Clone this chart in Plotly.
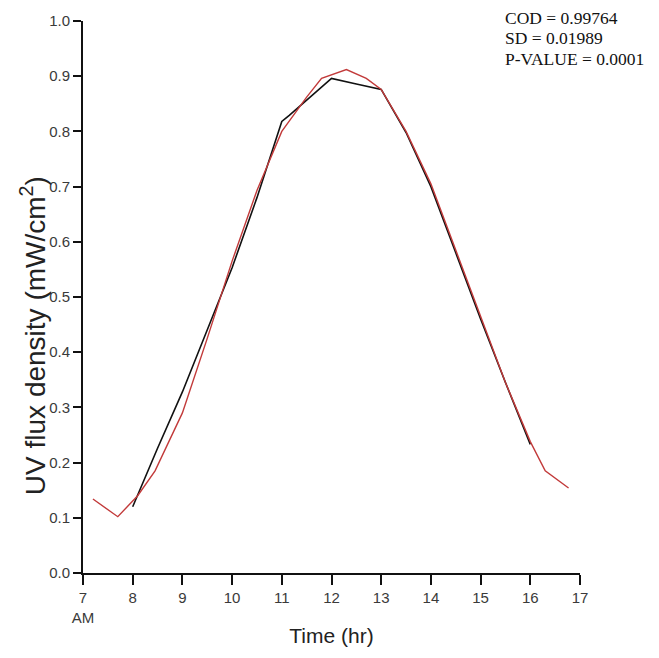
import plotly.graph_objects as go

# Measured UV flux density (black)
measured_t = [8.0, 8.5, 9.0, 9.5, 10.0, 10.5, 11.0, 11.15, 11.5, 12.0, 12.5, 12.8, 13.0,
              13.5, 14.0, 14.5, 15.0, 15.5, 16.0]
measured_v = [0.120, 0.226, 0.328, 0.440, 0.553, 0.680, 0.818, 0.829, 0.857, 0.896, 0.886, 0.880, 0.876,
              0.798, 0.700, 0.580, 0.460, 0.345, 0.233]

# Fitted curve (red)
fit_t = [7.2, 7.7, 8.1, 8.45, 9.0, 9.5, 10.0, 10.5, 11.0, 11.5, 11.8, 12.3, 12.7, 13.0,
         13.5, 14.0, 14.5, 15.0, 15.5, 16.0, 16.3, 16.77]
fit_v = [0.134, 0.102, 0.140, 0.185, 0.290, 0.425, 0.565, 0.693, 0.800, 0.862, 0.896, 0.912, 0.896, 0.876,
         0.800, 0.705, 0.585, 0.465, 0.345, 0.238, 0.185, 0.154]

x_tickvals = [7, 8, 9, 10, 11, 12, 13, 14, 15, 16, 17]
x_ticktext = ["7<br>AM", "8", "9", "10", "11", "12", "13", "14", "15", "16", "17"]
y_tickvals = [0.0, 0.1, 0.2, 0.3, 0.4, 0.5, 0.6, 0.7, 0.8, 0.9, 1.0]

y_title = "UV flux density (mW/cm<sup>2</sup>)"
x_title = "Time (hr)"
stats_text = ["COD = 0.99764", "SD = 0.01989", "P-VALUE = 0.0001"]

fig = go.Figure()
fig.add_trace(go.Scatter(x=measured_t, y=measured_v, mode="lines",
                         line=dict(color="#111111", width=1.6), showlegend=False))
fig.add_trace(go.Scatter(x=fit_t, y=fit_v, mode="lines",
                         line=dict(color="#c23a3a", width=1.4), showlegend=False))

sans = "Liberation Sans, Arial, sans-serif"
tick_font = dict(family=sans, size=15, color="#3a3a3a")

fig.update_layout(
    width=659, height=658,
    margin=dict(l=83, r=79, t=16, b=85),
    paper_bgcolor="white", plot_bgcolor="white",
    xaxis=dict(range=[7, 17], tickvals=x_tickvals, ticktext=x_ticktext,
               showgrid=False, zeroline=False, showline=True, linecolor="#111", linewidth=2,
               ticks="outside", ticklen=10, tickwidth=2, tickcolor="#111",
               tickfont=tick_font,
               title=dict(text=x_title, font=dict(family=sans, size=21, color="#222"),
                          standoff=4)),
    yaxis=dict(range=[0, 1], tickvals=y_tickvals, tickformat=".1f",
               showgrid=False, zeroline=False, showline=True, linecolor="#111", linewidth=2,
               ticks="outside", ticklen=8, tickwidth=2, tickcolor="#111",
               tickfont=tick_font),
)

# y-axis title placed as rotated text, centred slightly below the plot middle
fig.add_annotation(text=y_title, xref="paper", yref="paper",
                   x=(33 - 83) / 497, y=(573 - 334) / 557,
                   xanchor="center", yanchor="middle", textangle=-90, showarrow=False,
                   font=dict(family=sans, size=28, color="#222"))

stat_y_px = [13, 33, 54]
for s, ypx in zip(stats_text, stat_y_px):
    fig.add_annotation(text=s, xref="paper", yref="paper", x=(503 - 83) / 497,
                       y=(573 - ypx) / 557,
                       xanchor="left", yanchor="middle", showarrow=False,
                       font=dict(family="Liberation Serif, Times New Roman, serif", size=17.5, color="#111"))

fig.write_html("out.html")
